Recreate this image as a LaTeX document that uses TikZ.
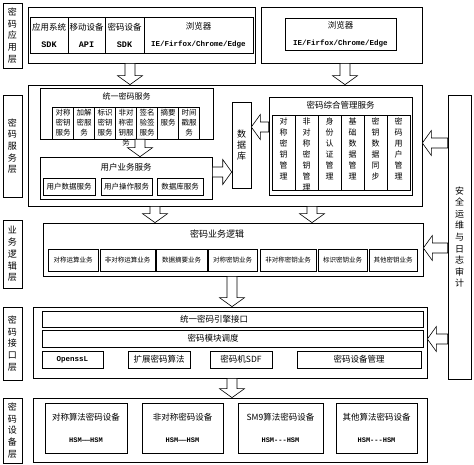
\documentclass[tikz,border=0pt]{standalone}
\usepackage{fontspec}
\setmainfont{Noto Sans CJK SC}
\newfontfamily\codefont{Liberation Mono}
\usetikzlibrary{calc,positioning}
\tikzset{layerlbl/.style={draw,line width=0.8pt,minimum width=19pt,inner sep=0pt,align=center,font=\fontsize{9}{11.7}\selectfont}}
\tikzset{frame/.style={draw,line width=0.7pt,inner sep=0pt}}
\tikzset{subbox/.style={draw,line width=0.6pt,inner sep=0pt,align=center}}
\tikzset{celltext/.style={inner sep=0pt,align=center}}
\tikzset{blockarr/.style={draw,line width=0.6pt,fill=white,line join=miter}}
% hollow block arrow from #1 to #2
\newcommand{\blockarrow}[2]{%
	\coordinate (bh) at ($#2!9pt!#1$);
	\draw[blockarr] ($#1!5pt!90:#2$) -- ($(bh)!5pt!90:#2$) -- ($(bh)!12.5pt!90:#2$) -- #2
		-- ($(bh)!12.5pt!-90:#2$) -- ($(bh)!5pt!-90:#2$) -- ($#1!5pt!-90:#2$) -- cycle;}

\begin{document}
\begin{tikzpicture}[x=1pt,y=-1pt]
	\useasboundingbox (0,0) rectangle (474,465);
	% layer names
	\node[layerlbl,minimum height=65pt] (lblApp) at (12.5,35.5) {密\\码\\应\\用\\层};
	\node[layerlbl,minimum height=102pt] (lblSvc) at (12.5,146) {密\\码\\服\\务\\层};
	\node[layerlbl,minimum height=68pt] (lblBiz) at (12.5,254) {业\\务\\逻\\辑\\层};
	\node[layerlbl,minimum height=73pt] (lblIfc) at (12.5,343.5) {密\\码\\接\\口\\层};
	\node[layerlbl,minimum height=65pt] (lblDev) at (12.5,430.5) {密\\码\\设\\备\\层};

	% application layer
	\node[frame,minimum width=227pt,minimum height=56pt] (app) at (141.5,35) {};
	\node[subbox,minimum width=38pt,minimum height=36pt,font=\fontsize{8.5}{17}\selectfont] (appSys) at (49,35) {应用系统\\{\codefont\bfseries SDK}};
	\node[subbox,minimum width=37pt,minimum height=36pt,font=\fontsize{8.5}{17}\selectfont] (appMob) at (86.5,35) {移动设备\\{\codefont\bfseries API}};
	\node[subbox,minimum width=39pt,minimum height=36pt,font=\fontsize{8.5}{17}\selectfont] (appDev) at (124.5,35) {密码设备\\{\codefont\bfseries SDK}};
	\node[subbox,minimum width=109pt,minimum height=36pt,font=\fontsize{8.5}{17}\selectfont] (appBrw) at (198.5,35) {浏览器\\{\codefont\bfseries\fontsize{7.5}{17}\selectfont IE/Firfox/Chrome/Edge}};
	\node[frame,minimum width=161pt,minimum height=56pt] (brw) at (341.5,35) {};
	\node[subbox,minimum width=111pt,minimum height=32pt,font=\fontsize{8.5}{17}\selectfont] (brwIn) at (340.5,34) {浏览器\\{\codefont\bfseries\fontsize{7.5}{17}\selectfont IE/Firfox/Chrome/Edge}};

	% service layer
	\node[frame,minimum width=394pt,minimum height=121pt] (svc) at (225,145.5) {};
	\node[subbox,minimum width=173pt,minimum height=51pt] (uni) at (126.5,113.5) {};
	\node[celltext,font=\fontsize{8}{10}\selectfont] (uniTitle) at (126.5,96) {统一密码服务};
	\foreach \i/\x/\t in {1/63/{对称\\密钥\\服务},2/84/{加解\\密服\\务},3/105/{标识\\密钥\\服务},4/126/{非对\\称密\\钥服\\务},5/147/{签名\\验签\\服务},6/168/{摘要\\服务},7/189/{时间\\戳服\\务}}{
		\node[subbox,minimum width=21pt,minimum height=32pt] (uc\i) at (\x,123) {};
		\node[celltext,anchor=north,font=\fontsize{7.5}{10}\selectfont] at ([yshift=-2pt]uc\i.north) {\t};
	}
	\node[subbox,minimum width=172pt,minimum height=42pt] (usr) at (126,178) {};
	\node[celltext,font=\fontsize{8.5}{10}\selectfont] (usrTitle) at (126,167) {用户业务服务};
	\node[subbox,minimum width=52pt,minimum height=17pt,font=\fontsize{7.5}{9}\selectfont] (usrData) at (69,186.5) {用户数据服务};
	\node[subbox,minimum width=51pt,minimum height=17pt,font=\fontsize{7.5}{9}\selectfont] (usrOp) at (126.5,186.5) {用户操作服务};
	\node[subbox,minimum width=46pt,minimum height=17pt,font=\fontsize{7.5}{9}\selectfont] (usrDb) at (180,186.5) {数据库服务};
	\node[subbox,minimum width=19pt,minimum height=86pt,font=\fontsize{9}{11}\selectfont] (db) at (241.5,145) {数\\据\\库};
	\node[subbox,minimum width=143pt,minimum height=98pt] (mgmt) at (340.5,146) {};
	\node[celltext,font=\fontsize{8.5}{10}\selectfont] (mgmtTitle) at (340.5,105) {密码综合管理服务};
	\foreach \i/\x/\t in {1/283.5/{对\\称\\密\\钥\\管\\理},2/306.5/{非\\对\\称\\密\\钥\\管\\理},3/329.5/{身\\份\\认\\证\\管\\理},4/352.5/{基\\础\\数\\据\\管\\理},5/375.5/{密\\钥\\数\\据\\同\\步},6/398.5/{密\\码\\用\\户\\管\\理}}{
		\node[subbox,minimum width=23pt,minimum height=75pt] (mc\i) at (\x,152.5) {};
		\node[celltext,anchor=north,font=\fontsize{8}{11}\selectfont] at ([yshift=-3pt]mc\i.north) {\t};
	}

	% audit column
	\node[subbox,line width=0.7pt,minimum width=23pt,minimum height=284pt,font=\fontsize{9}{11.6}\selectfont] (audit) at (459.5,237) {安\\全\\运\\维\\与\\日\\志\\审\\计};

	% business logic layer
	\node[frame,minimum width=380pt,minimum height=53pt] (biz) at (233,249.5) {};
	\node[celltext,font=\fontsize{9}{10}\selectfont] (bizTitle) at (217,234) {密码业务逻辑};
	\foreach \i/\x/\w/\t in {1/73/50/对称运算业务,2/127.5/55/非对称运算业务,3/181.5/51/数据摘要业务,4/232.5/49/对称密钥业务,5/288/56/非对称密钥业务,6/342.5/49/标识密钥业务,7/393/48/其他密钥业务}{
		\node[subbox,minimum width=\w pt,minimum height=22pt,font=\fontsize{6.5}{8}\selectfont] (bc\i) at (\x,260) {\t};
	}

	% interface layer
	\node[frame,minimum width=394pt,minimum height=71pt] (ifc) at (230,342.5) {};
	\node[subbox,minimum width=381pt,minimum height=16pt] (eng) at (232.5,319) {};
	\node[celltext,font=\fontsize{8.5}{10}\selectfont] (engTxt) at (214,319) {统一密码引擎接口};
	\node[subbox,minimum width=381pt,minimum height=17pt] (sch) at (232.5,338.5) {};
	\node[celltext,font=\fontsize{8.5}{10}\selectfont] (schTxt) at (213,338.5) {密码模块调度};
	\node[subbox,minimum width=61pt,minimum height=17pt,font=\codefont\bfseries\fontsize{7.5}{9}\selectfont] (ossl) at (72.5,359.5) {OpenssL};
	\node[subbox,minimum width=62pt,minimum height=17pt,font=\fontsize{8.5}{10}\selectfont] (ext) at (159,359.5) {扩展密码算法};
	\node[subbox,minimum width=62pt,minimum height=17pt,font=\fontsize{8.5}{10}\selectfont] (sdf) at (241,359.5) {密码机SDF};
	\node[subbox,minimum width=124pt,minimum height=17pt,font=\fontsize{8.5}{10}\selectfont] (dmg) at (359,359.5) {密码设备管理};

	% device layer
	\node[frame,minimum width=394pt,minimum height=64pt] (dev) at (230,430) {};
	\node[subbox,minimum width=82pt,minimum height=50pt,font=\fontsize{8.5}{22}\selectfont] (dSym) at (86,428) {对称算法密码设备\\{\codefont\bfseries\fontsize{7}{22}\selectfont HSM——HSM}};
	\node[subbox,minimum width=81pt,minimum height=50pt,font=\fontsize{8.5}{22}\selectfont] (dAsym) at (182.5,428) {非对称密码设备\\{\codefont\bfseries\fontsize{7}{22}\selectfont HSM——HSM}};
	\node[subbox,minimum width=85pt,minimum height=50pt,font=\fontsize{8.5}{22}\selectfont] (dSm9) at (280.5,428) {SM9算法密码设备\\{\codefont\bfseries\fontsize{7}{22}\selectfont HSM---HSM}};
	\node[subbox,minimum width=81pt,minimum height=50pt,font=\fontsize{8.5}{22}\selectfont] (dOther) at (376.5,428) {其他算法密码设备\\{\codefont\bfseries\fontsize{7}{22}\selectfont HSM---HSM}};

	% block arrows
	\coordinate (a1) at ([xshift=-11.5pt]app.south);
	\coordinate (a2) at ([xshift=3.5pt]brw.south);
	\coordinate (a3) at ([xshift=13.5pt]uni.south);
	\coordinate (a4) at ([yshift=6pt]usr.east);
	\coordinate (a5) at ([yshift=19pt]mgmt.west);
	\coordinate (a6) at ([yshift=94pt]audit.west);
	\coordinate (a7) at ([yshift=-11pt]audit.west);
	\coordinate (a8) at ([yshift=-102pt]audit.west);
	\coordinate (a9) at ([xshift=-70pt]svc.south);
	\coordinate (a10) at ([xshift=87pt]svc.south);
	\coordinate (a11) at ([xshift=-1pt]biz.south);
	\coordinate (a12) at ([xshift=2pt]ifc.south);
	\blockarrow{(a1)}{(a1 |- svc.north)}
	\blockarrow{(a2)}{(a2 |- svc.north)}
	\blockarrow{(a3)}{(a3 |- usr.north)}
	\blockarrow{(a4)}{(a4 -| db.west)}
	\blockarrow{(a5)}{(a5 -| db.east)}
	\blockarrow{(a6)}{(a6 -| svc.east)}
	\blockarrow{(a7)}{(a7 -| biz.east)}
	\blockarrow{(a8)}{(a8 -| ifc.east)}
	\blockarrow{(a9)}{(a9 |- biz.north)}
	\blockarrow{(a10)}{(a10 |- biz.north)}
	\blockarrow{(a11)}{(a11 |- ifc.north)}
	\blockarrow{(a12)}{(a12 |- dev.north)}
\end{tikzpicture}
\end{document}
